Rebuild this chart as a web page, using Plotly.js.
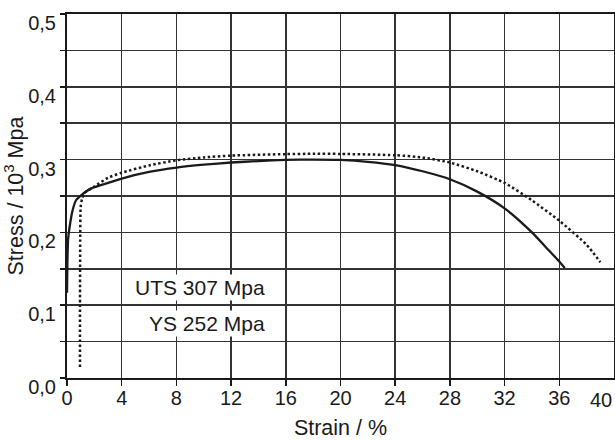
<!DOCTYPE html>
<html>
<head>
<meta charset="utf-8">
<script src="https://cdn.plot.ly/plotly-3.0.1.min.js"></script>
<style>html,body{margin:0;padding:0;background:#fff;}#chart{width:615px;height:440px;}</style>
</head>
<body>
<div id="chart"></div>
<script>
// Solid curve (strain %, stress 10^3 MPa)
const solidStrain = [0, 0.03, 0.08, 0.18, 0.42, 0.67, 1.03, 1.77, 3, 4, 6, 8, 10, 12, 14, 16, 18, 20, 22, 24, 26, 28, 30, 32, 34, 35, 36, 36.4];
const solidStress = [0.117, 0.16, 0.19, 0.206, 0.231, 0.2445, 0.251, 0.2605, 0.268, 0.274, 0.283, 0.289, 0.293, 0.296, 0.298, 0.2995, 0.3, 0.2995, 0.297, 0.2925, 0.284, 0.273, 0.256, 0.233, 0.2, 0.18, 0.16, 0.151];
// Dotted curve
const dotStrain = [0.95, 0.95, 0.97, 1.0, 1.1, 1.28, 2, 3, 4, 6, 8, 10, 12, 16, 18, 20, 24, 26, 28, 30, 32, 34, 36, 38, 39];
const dotStress = [0.015, 0.1, 0.2, 0.235, 0.246, 0.254, 0.263, 0.275, 0.282, 0.292, 0.299, 0.303, 0.3055, 0.3075, 0.308, 0.3078, 0.306, 0.303, 0.296, 0.284, 0.268, 0.244, 0.216, 0.183, 0.159];

const xTickVals = [0, 4, 8, 12, 16, 20, 24, 28, 32, 36];
const xTickText = ['0', '4', '8', '12', '16', '20', '24', '28', '32', '36'];
const xLastTick = 40;
const xLastTickText = '40';
const yTickVals = [0, 0.1, 0.2, 0.3, 0.4, 0.5];
const yTickText = ['0,0', '0,1', '0,2', '0,3', '0,4', '0,5'];

const noteTexts = ['UTS 307 Mpa', 'YS 252 Mpa'];
const noteX = [14.6, 14.6];
const noteY = [0.125, 0.0755];

const FONT = 'Liberation Sans, Arial, sans-serif';
const INK = '#1a1a1a';
const GRID = '#333333';

const traces = [
  {x: solidStrain, y: solidStress, mode: 'lines', line: {color: INK, width: 2.3, shape: 'spline', smoothing: 0.6}, hoverinfo: 'skip'},
  {x: dotStrain, y: dotStress, mode: 'lines', line: {color: INK, width: 2.5, dash: '2.5px,2.5px', shape: 'spline', smoothing: 0.6}, hoverinfo: 'skip'}
];

const annotations = noteTexts.map((t, i) => ({
  x: noteX[i], y: noteY[i], xref: 'x', yref: 'y', text: t, showarrow: false,
  xanchor: 'right', yanchor: 'middle', bgcolor: '#ffffff', borderpad: 1,
  font: {family: FONT, size: 21, color: INK}
}));
annotations.push({
  x: xLastTick, y: 0, xref: 'x', yref: 'paper', text: xLastTickText, showarrow: false,
  xanchor: 'right', yanchor: 'top', yshift: -9,
  font: {family: FONT, size: 20, color: INK}
});

const layout = {
  width: 615, height: 440,
  margin: {l: 67, r: 1, t: 14, b: 62},
  paper_bgcolor: '#ffffff', plot_bgcolor: '#ffffff',
  showlegend: false,
  font: {family: FONT, size: 20, color: INK},
  xaxis: {
    range: [0, 40], tickvals: xTickVals, ticktext: xTickText,
    ticks: 'outside', ticklen: 6, tickwidth: 1.5, tickcolor: INK,
    ticklabelstandoff: -5,
    showline: true, linecolor: INK, linewidth: 2, mirror: true,
    showgrid: true, gridcolor: GRID, gridwidth: 1.5, zeroline: false,
    tickfont: {family: FONT, size: 20, color: INK},
    title: {text: 'Strain / %', font: {family: FONT, size: 21.5, color: INK}, standoff: 12}
  },
  yaxis: {
    range: [0, 0.5], tickvals: yTickVals, ticktext: yTickText,
    ticks: 'outside', ticklen: 5, tickwidth: 1.5, tickcolor: INK,
    ticklabelshift: 9,
    showline: true, linecolor: INK, linewidth: 2, mirror: true,
    showgrid: true, gridcolor: GRID, gridwidth: 1.5, zeroline: false,
    minor: {dtick: 0.05, ticks: 'outside', ticklen: 5, tickwidth: 1.5, tickcolor: INK, showgrid: true, gridcolor: GRID, gridwidth: 1.5},
    tickfont: {family: FONT, size: 20, color: INK},
    title: {text: 'Stress / 10<sup>3</sup> Mpa', font: {family: FONT, size: 21.5, color: INK}, standoff: 1}
  },
  annotations: annotations
};

Plotly.newPlot('chart', traces, layout, {displayModeBar: false, staticPlot: true});
</script>
</body>
</html>
